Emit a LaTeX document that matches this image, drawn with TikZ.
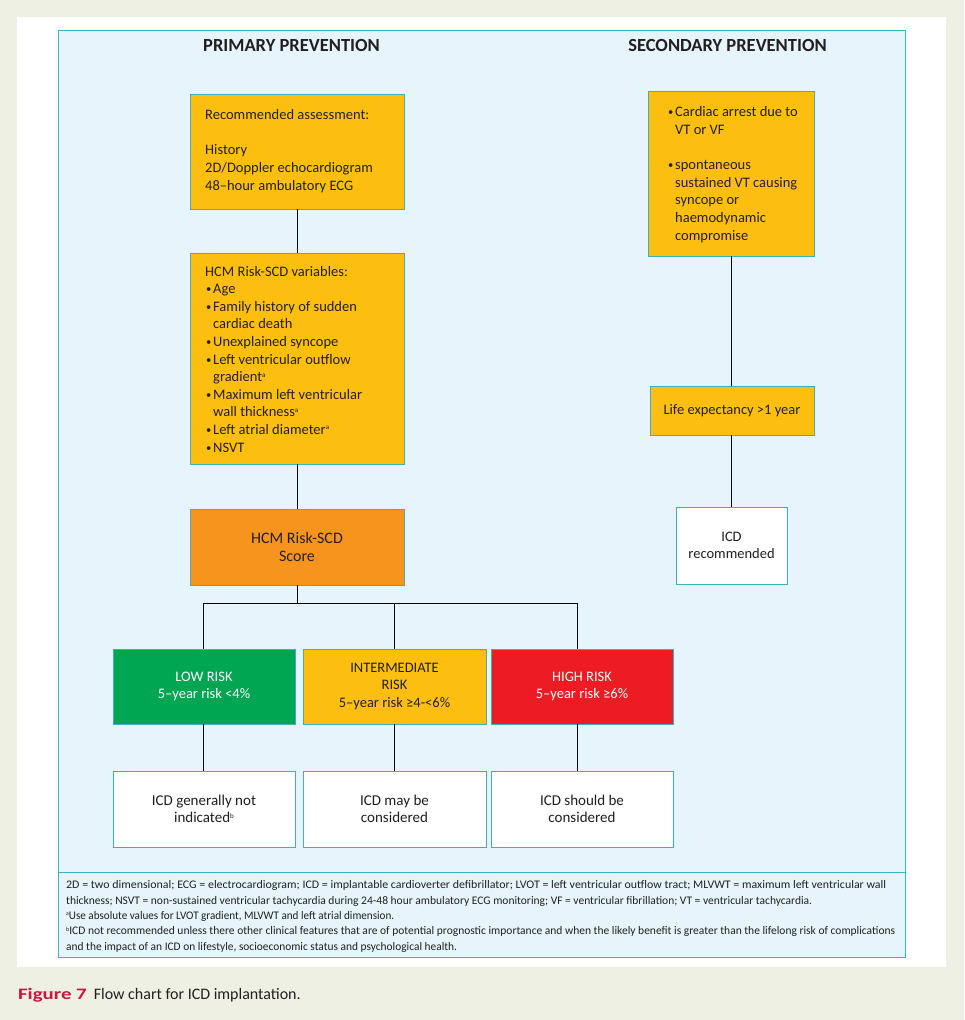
\documentclass[tikz,border=0pt]{standalone}
\usepackage{fontspec}
\usepackage{graphicx}
\setmainfont{Carlito}
\definecolor{bgbeige}{HTML}{EFF0E4}
\definecolor{panelblue}{HTML}{E5F5FB}
\definecolor{panelline}{HTML}{3BB3C9}
\definecolor{goldbox}{HTML}{FDBF0F}
\definecolor{orangebox}{HTML}{F7941E}
\definecolor{greenbox}{HTML}{00A651}
\definecolor{redbox}{HTML}{ED1C24}
\definecolor{txt}{HTML}{231F20}
\definecolor{boxline}{HTML}{3DAFC0}
\definecolor{crimson}{HTML}{C8173F}
\newcommand{\bul}{\makebox[8pt][l]{\hspace{0.8pt}\raisebox{1pt}{\fontsize{10.5}{10}\selectfont •}}}
\newcommand{\ind}{\hspace*{8pt}}
\newcommand{\supa}[1]{{\fontsize{7}{7}\selectfont\raisebox{4.5pt}{#1}}}
\newcommand{\supf}[1]{{\fontsize{6}{6}\selectfont\raisebox{3.5pt}{#1}}}
\newcommand{\fitline}[2]{\resizebox{#1}{\height}{#2}}
\tikzset{
  boxbase/.style={draw=boxline, line width=0.8pt, inner sep=0pt, text=txt,
    align=center, font=\fontsize{14.5}{17.5}\selectfont},
  goldb/.style={boxbase, fill=goldbox},
  orangeb/.style={boxbase, fill=orangebox},
  greenb/.style={boxbase, fill=greenbox, text=white},
  redb/.style={boxbase, fill=redbox, text=white},
  whiteb/.style={boxbase, fill=white},
  lefttext/.style={inner sep=0pt, anchor=base west, align=left, text=txt,
    font=\fontsize{14.5}{17.6}\selectfont},
  header/.style={inner sep=0pt, anchor=base, text=txt, font=\fontsize{18.5}{20}\selectfont\bfseries},
  conn/.style={draw=black, line width=0.9pt},
}
\begin{document}
\begin{tikzpicture}[x=1pt,y=-1pt]
\useasboundingbox (0,0) rectangle (964,1020);
\fill[bgbeige] (0,0) rectangle (964,1020);
\fill[white] (17,17) rectangle (946,967);
\draw[panelline, line width=0.9pt, fill=panelblue] (58,30) rectangle (905,957);
\draw[panelline, line width=0.9pt] (58,872) -- (905,872);

\node[header] (hprim) at (291.5,51) {PRIMARY PREVENTION};
\node[header] (hsec) at (727.5,51) {SECONDARY PREVENTION};

% primary boxes
\node[goldb, minimum width=214pt, minimum height=115pt] (b1) at (297,151.5) {};
\node[lefttext] (t1) at (205,190) {Recommended assessment:\\[17.6pt]History\\2D/Doppler echocardiogram\\48–hour ambulatory ECG};

\node[goldb, minimum width=214pt, minimum height=211pt] (b2) at (297,358.5) {};
\node[lefttext] (t2) at (205,452) {HCM Risk-SCD variables:\\
\bul Age\\
\bul Family history of sudden\\
\ind cardiac death\\
\bul Unexplained syncope\\
\bul Left ventricular outflow\\
\ind gradient\supa{a}\\
\bul Maximum left ventricular\\
\ind wall thickness\supa{a}\\
\bul Left atrial diameter\supa{a}\\
\bul NSVT};

\node[orangeb, minimum width=214pt, minimum height=76pt, font=\fontsize{16}{18}\selectfont] (score) at (297,547) {HCM Risk-SCD\\Score};

\coordinate (jl) at (203,603);
\coordinate (jm) at (394,603);
\coordinate (jr) at (577,603);

\node[greenb, minimum width=182pt, minimum height=75pt] (low) at (204,686.5) {LOW RISK\\5–year risk <4\%};
\node[goldb, minimum width=183pt, minimum height=75pt] (mid) at (394.5,686.5) {INTERMEDIATE\\RISK\\5–year risk ≥4-<6\%};
\node[redb, minimum width=182pt, minimum height=75pt] (high) at (582,686.5) {HIGH RISK\\5–year risk ≥6\%};

\node[whiteb, minimum width=182pt, minimum height=76pt, font=\fontsize{15}{17.5}\selectfont] (icd1) at (204,809) {ICD generally not\\indicated\supa{b}};
\node[whiteb, minimum width=183pt, minimum height=76pt, font=\fontsize{15}{17.5}\selectfont] (icd2) at (394.5,809) {ICD may be\\considered};
\node[whiteb, minimum width=182pt, minimum height=76pt, font=\fontsize{15}{17.5}\selectfont] (icd3) at (582,809) {ICD should be\\considered};

% secondary
\node[goldb, minimum width=166pt, minimum height=165pt] (arrest) at (731,173.5) {};
\node[lefttext] (t3) at (667,240) {\bul Cardiac arrest due to\\
\ind VT or VF\\[17.6pt]
\bul spontaneous\\
\ind sustained VT causing\\
\ind syncope or\\
\ind haemodynamic\\
\ind compromise};
\node[goldb, minimum width=164pt, minimum height=49pt] (life) at (732,410.5) {Life expectancy >1 year};
\node[whiteb, minimum width=111pt, minimum height=77pt] (icdrec) at (731.5,545.5) {ICD\\recommended};

% connectors
\draw[conn] (b1.south) -- (b2.north);
\draw[conn] (b2.south) -- (score.north);
\draw[conn] (score.south) -- (score.south |- jl);
\draw[conn] (jl) -- (jr);
\draw[conn] (jl) -- (jl |- low.north);
\draw[conn] (jm) -- (jm |- mid.north);
\draw[conn] (jr) -- (jr |- high.north);
\draw[conn] (jl |- low.south) -- (jl |- icd1.north);
\draw[conn] (jm |- mid.south) -- (jm |- icd2.north);
\draw[conn] (jr |- high.south) -- (jr |- icd3.north);
\draw[conn] (arrest.south) -- (arrest.south |- life.north);
\draw[conn] (arrest.south |- life.south) -- (arrest.south |- icdrec.north);

% footnote
\node[inner sep=0pt, anchor=base west, align=left, text=txt, font=\fontsize{11.6}{15.3}\selectfont] (foot) at (66,950)
{\fitline{820pt}{2D = two dimensional; ECG = electrocardiogram; ICD = implantable cardioverter defibrillator; LVOT = left ventricular outflow tract; MLVWT = maximum left ventricular wall}\\
\fitline{746pt}{thickness; NSVT = non-sustained ventricular tachycardia during 24-48 hour ambulatory ECG monitoring; VF = ventricular fibrillation; VT = ventricular tachycardia.}\\
\fitline{328pt}{\supf{a}Use absolute values for LVOT gradient, MLVWT and left atrial dimension.}\\
\fitline{829pt}{\supf{b}ICD not recommended unless there other clinical features that are of potential prognostic importance and when the likely benefit is greater than the lifelong risk of complications}\\
\fitline{391pt}{and the impact of an ICD on lifestyle, socioeconomic status and psychological health.}};

% caption
\node[inner sep=0pt, anchor=base west, font=\fontsize{16}{18}\selectfont, text=txt] (cap) at (18,999)
{\textcolor{crimson}{\scalebox{1.3}[1]{\bfseries Figure 7}}\hspace{7pt}Flow chart for ICD implantation.};
\end{tikzpicture}
\end{document}
